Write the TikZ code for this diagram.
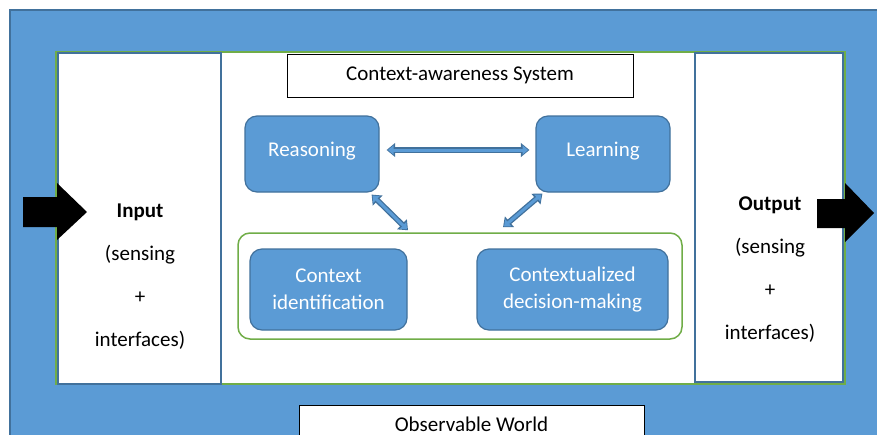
\documentclass[tikz,border=0pt]{standalone}
\usepackage{fontspec}
\setmainfont{Carlito}
\usetikzlibrary{arrows.meta,calc}
\definecolor{officeblue}{HTML}{5B9BD5}
\definecolor{officeedge}{HTML}{41719C}
\definecolor{officegreen}{HTML}{70AD47}
\begin{document}
\begin{tikzpicture}[x=1pt,y=-1pt,
  txt/.style={font=\fontsize{21}{27}\selectfont},
  panel/.style={draw=officeedge, line width=1.5pt, fill=white, inner sep=0pt},
  block/.style={draw=officeedge, line width=1.2pt, fill=officeblue, rounded corners=12pt,
    text=white, txt, align=center, inner sep=0pt},
  caption/.style={draw=black, line width=1pt, fill=white, txt, inner sep=0pt},
  sidetext/.style={font=\fontsize{21}{43}\selectfont, align=center},
  blockarrow/.style={draw=officeblue, line width=3pt,
    {Triangle[width=9pt,length=5.5pt]}-{Triangle[width=9pt,length=5.5pt]},
    shorten <=1.4pt, shorten >=1.4pt,
    preaction={draw=officeedge, line width=5.6pt,
      {Triangle[width=13.5pt,length=8.5pt]}-{Triangle[width=13.5pt,length=8.5pt]},
      shorten <=0pt, shorten >=0pt}},
]
\useasboundingbox (0,0) rectangle (877,434);
\fill[white] (0,0) rectangle (877,434);

% the observable world
\draw[officeedge, line width=1.5pt, fill=officeblue] (10,10) rectangle (900,460);

% system frame with the input and output panels
\node[draw=officegreen, line width=1.5pt, fill=white, inner sep=0pt,
  minimum width=789pt, minimum height=332pt] (frame) at (450.5,218) {};
\node[panel, minimum width=163pt, minimum height=331pt] (inpanel) at (139.5,218.5) {};
\node[panel, minimum width=148pt, minimum height=329pt] (outpanel) at (769,217.5) {};

\node[sidetext] (intext) at (140,277) {\textbf{Input}\\(sensing\\+\\interfaces)};
\node[sidetext] (outtext) at (770,270) {\textbf{Output}\\(sensing\\+\\interfaces)};

% titles
\node[caption, minimum width=346pt, minimum height=43pt] (sys) at (460,75.5) {Context-awareness System};
\node[caption, minimum width=345pt, minimum height=38pt] (world) at (471.5,424) {Observable World};

% reasoning and learning modules
\node[block, minimum width=134pt, minimum height=76pt] (reason) at (312,154) {\raisebox{10pt}{Reasoning}};
\node[block, minimum width=134pt, minimum height=76pt] (learn) at (603,154) {\raisebox{10pt}{Learning}};

% context processing group
\node[draw=officegreen, line width=1.5pt, rounded corners=12pt, inner sep=0pt,
  minimum width=444pt, minimum height=106pt] (group) at (460,286) {};
\node[block, minimum width=157pt, minimum height=81pt] (ident) at (328.5,289.5) {Context\\identification};
\node[block, minimum width=191pt, minimum height=81pt] (decide) at (572.5,289.5) {Contextualized\\decision-making};

% interactions
\draw[blockarrow] ($(reason.east)+(7,-4)$) -- ($(learn.west)+(-6,-4)$);
\draw[blockarrow] ($(reason.south east)+(-8,2)$) -- ($(group.north)+(-52,-2)$);
\draw[blockarrow] ($(learn.south west)+(7,1)$) -- ($(group.north)+(43,-5)$);

% input and output flows
\fill[black] (23,197) -- (57,197) -- (57,183) -- (87,212) -- (57,240) -- (57,227) -- (23,227) -- cycle;
\fill[black] (817,199) -- (845,199) -- (845,183) -- (874,213) -- (845,242) -- (845,228) -- (817,228) -- cycle;
\end{tikzpicture}
\end{document}
